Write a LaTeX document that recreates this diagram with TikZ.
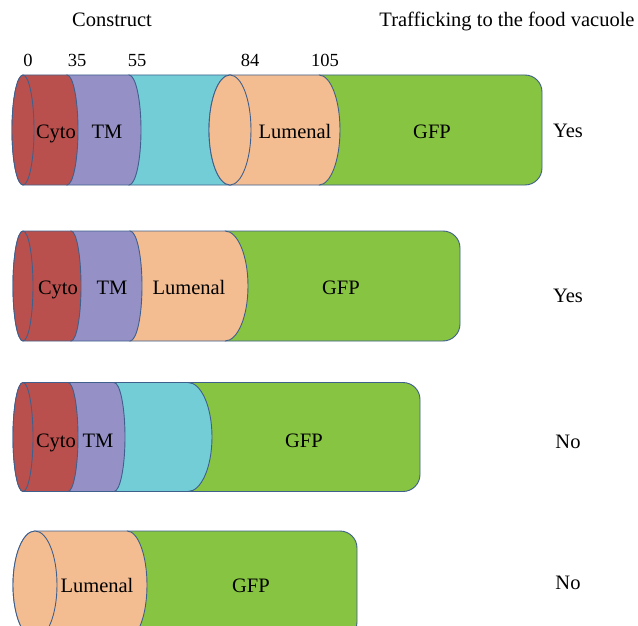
\documentclass[tikz,border=0pt]{standalone}
\usepackage{fontspec}
\setmainfont{Liberation Serif}
\definecolor{cyto}{HTML}{BA504D}
\definecolor{tm}{HTML}{9591C6}
\definecolor{linker}{HTML}{73CDD7}
\definecolor{lumen}{HTML}{F4BD91}
\definecolor{gfp}{HTML}{86C441}
\definecolor{rim}{HTML}{3F5F8C}
% cylinder segment: x0, x1, left x-radius, right x-radius, centre y (down), half height, colour
\newcommand\cylseg[7]{%
  \filldraw[seg,fill=#7] (#1,-#5+#6) -- (#2,-#5+#6)
    arc[start angle=90,end angle=-90,x radius=#4pt,y radius=#6pt]
    -- (#1,-#5-#6)
    arc[start angle=270,end angle=90,x radius=#3pt,y radius=#6pt] -- cycle;}
% front face of a segment
\newcommand\cylface[5]{%
  \filldraw[seg,fill=#5] (#1,-#2) ellipse[x radius=#3pt,y radius=#4pt];}
% green tail with rounded right end: x0, x1, centre y, half height
\newcommand\gfptail[4]{%
  \filldraw[seg,fill=gfp] (#1,-#3+#4) -- (#2-17,-#3+#4)
    arc[start angle=90,end angle=0,radius=17pt] -- (#2,-#3-#4+17)
    arc[start angle=0,end angle=-90,radius=17pt] -- (#1,-#3-#4) -- cycle;}
\begin{document}
\begin{tikzpicture}[x=1pt,y=1pt,
  seg/.style={draw=rim,line width=0.9pt,line join=round},
  lab/.style={anchor=base,inner sep=0pt,font=\fontsize{20.5}{24}\selectfont},
  resnum/.style={anchor=base,inner sep=0pt,font=\fontsize{18.5}{22}\selectfont}]
\clip (0,0) rectangle (638,-626);
\fill[white] (0,0) rectangle (638,-626);

% headings
\node[lab] (hcon) at (112,-26.5) {Construct};
\node[lab] (htraf) at (507,-26.5) {Trafficking to the food vacuole};

% residue positions
\node[resnum] (p0) at (28,-67) {0};
\node[resnum] (p35) at (77,-67) {35};
\node[resnum] (p55) at (137,-67) {55};
\node[resnum] (p84) at (250,-67) {84};
\node[resnum] (p105) at (325,-67) {105};

% construct 1
\gfptail{319}{542}{130}{55}
\cylseg{129}{230}{12}{21}{130}{55}{linker}
\cylseg{230}{319}{21}{21}{130}{55}{lumen}
\cylface{230}{130}{21}{55}{lumen}
\cylseg{67}{129}{11}{12}{130}{55}{tm}
\cylseg{23}{67}{11}{11}{130}{55}{cyto}
\cylface{23}{130}{11}{55}{cyto}
\node[lab] (c1cyto) at (56,-138.5) {Cyto};
\node[lab] (c1tm) at (107,-138.5) {TM};
\node[lab] (c1lum) at (295,-138.5) {Lumenal};
\node[lab] (c1gfp) at (432,-138.5) {GFP};
\node[lab] (c1res) at (568,-137) {Yes};

% construct 2
\gfptail{225}{460}{286}{55}
\cylseg{130}{225}{12}{23}{286}{55}{lumen}
\cylseg{71}{130}{10}{12}{286}{55}{tm}
\cylseg{23}{71}{10}{10}{286}{55}{cyto}
\cylface{23}{286}{10}{55}{cyto}
\node[lab] (c2cyto) at (58,-294.5) {Cyto};
\node[lab] (c2tm) at (112,-294.5) {TM};
\node[lab] (c2lum) at (189,-294.5) {Lumenal};
\node[lab] (c2gfp) at (341,-294.5) {GFP};
\node[lab] (c2res) at (568,-302) {Yes};

% construct 3
\gfptail{188}{420}{437}{54.5}
\cylseg{114}{188}{11}{24}{437}{54.5}{linker}
\cylseg{68}{114}{10}{11}{437}{54.5}{tm}
\cylseg{23}{68}{10}{10}{437}{54.5}{cyto}
\cylface{23}{437}{10}{54.5}{cyto}
\node[lab] (c3cyto) at (56,-447.5) {Cyto};
\node[lab] (c3tm) at (98,-447.5) {TM};
\node[lab] (c3gfp) at (304,-447.5) {GFP};
\node[lab] (c3res) at (568,-448) {No};

% construct 4
\gfptail{127}{357}{585}{54}
\cylseg{35}{127}{22}{20}{585}{54}{lumen}
\cylface{35}{585}{22}{54}{lumen}
\node[lab] (c4lum) at (97,-592.5) {Lumenal};
\node[lab] (c4gfp) at (251,-592.5) {GFP};
\node[lab] (c4res) at (568,-589) {No};
\end{tikzpicture}
\end{document}
